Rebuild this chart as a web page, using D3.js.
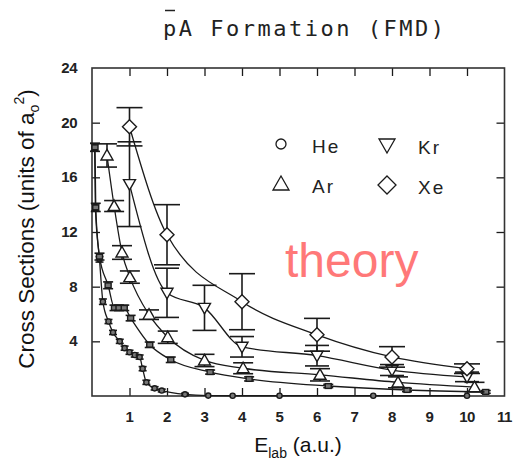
<!DOCTYPE html>
<html><head><meta charset="utf-8">
<script src="https://cdn.jsdelivr.net/npm/d3@7"></script>
<style>body{margin:0;background:#fff}</style>
</head><body><svg id="c" width="517" height="461"></svg>
<script>
// ---- data ----
const xTicks = [1,2,3,4,5,6,7,8,9,10,11];
const yTicks = [4,8,12,16,20,24];
const legendLabels = ["He","Ar","Kr","Xe"];

const heX   = [0.07,0.09,0.2,0.29,0.44,0.56,0.74,0.87,1.0,1.14,1.27,1.35,1.45,1.67,1.86,2.48,3.1,3.75,5.0,7.5,10.0];
const heY   = [18.2,13.8,10.0,6.9,5.45,4.65,4.0,3.5,3.2,3.0,2.85,2.0,1.0,0.56,0.4,0.12,0.03,0.02,0.02,0.02,0.02];
const heErr = [0.25,0.25,0.2,0.2,0.15,0.15,0.15,0.15,0.15,0.15,0.15,0.15,0.15,0.12,0.1,0.08,0,0,0,0,0];

const sqX   = [0.08,0.1,0.2,0.43,0.6,0.72,0.86,1.03,1.54,2.1,3.15,4.19,6.3,8.4,10.5];
const sqY   = [18.2,13.8,10.2,8.1,6.45,6.45,6.45,5.7,3.75,2.65,1.75,1.25,0.73,0.44,0.3];
const sqErr = [0.3,0.3,0.25,0.25,0.2,0.2,0.2,0.2,0.2,0.2,0.15,0.15,0.12,0.12,0.1];

const arX   = [0.4,0.59,0.8,1.01,1.52,2.02,3.0,4.03,6.08,8.16,10.2];
const arY   = [17.6,13.9,10.5,8.7,5.95,4.3,2.6,2.03,1.55,1.0,0.65];
const arErr = [0.85,0.4,0.5,0.45,0.35,0.45,0.45,0.4,0.45,0.4,0.35];

const krX   = [1,2,3,4,6,8,10];
const krY   = [15.5,7.55,6.45,3.6,2.95,1.9,1.4];
const krErr = [3.1,1.8,1.65,0.75,0.75,0.4,0.35];

const xeX   = [1,2,4,6,8,10];
const xeY   = [19.7,11.8,6.9,4.48,2.86,2.0];
const xeErr = [1.4,2.2,2.05,1.2,0.75,0.35];

// ---- layout ----
const svg = d3.select("#c");
const L = 92, R = 504.5, T = 68, B = 396;
const x = d3.scaleLinear().domain([0,11]).range([L,R]);
const y = d3.scaleLinear().domain([0,24]).range([B,T]);
const ink = "#1a1a1a";

// title
svg.append("text").attr("x",163).attr("y",36)
  .attr("font-family","DejaVu Sans Mono").attr("font-size",22)
  .attr("letter-spacing","2.5px").attr("fill","#222").text("pA Formation (FMD)");
svg.append("line").attr("x1",165).attr("x2",175).attr("y1",10.5).attr("y2",10.5)
  .attr("stroke","#222").attr("stroke-width",1.5);

// ticks (inward, mirrored) via d3 axes
const tickOpts = g => g.call(s => s.select(".domain").remove())
  .call(s => s.selectAll("line").attr("stroke",ink).attr("stroke-width",1.3))
  .call(s => s.selectAll("text").remove());
svg.append("g").attr("transform",`translate(0,${B})`)
  .call(d3.axisBottom(x).tickValues(xTicks.slice(0,10)).tickSize(-8)).call(tickOpts);
svg.append("g").attr("transform",`translate(0,${T})`)
  .call(d3.axisTop(x).tickValues(xTicks.slice(0,10)).tickSize(-8)).call(tickOpts);
svg.append("g").attr("transform",`translate(${L},0)`)
  .call(d3.axisLeft(y).tickValues(yTicks.slice(0,5)).tickSize(-8)).call(tickOpts);
svg.append("g").attr("transform",`translate(${R},0)`)
  .call(d3.axisRight(y).tickValues(yTicks.slice(0,5)).tickSize(-8)).call(tickOpts);

// tick labels
svg.append("g").selectAll("text").data(xTicks).join("text")
  .attr("x", d => x(d)).attr("y", 422).attr("text-anchor","middle")
  .attr("font-family","Liberation Sans").attr("font-weight","bold").attr("font-size",15)
  .attr("letter-spacing","-0.5px").attr("fill","#222").text(d => d);
svg.append("g").selectAll("text").data(yTicks).join("text")
  .attr("x", 77).attr("y", d => y(d)+5).attr("text-anchor","end")
  .attr("font-family","Liberation Sans").attr("font-weight","bold").attr("font-size",15)
  .attr("letter-spacing","-0.5px").attr("fill","#222").text(d => d);

// axis titles
const xl = svg.append("text").attr("x",298).attr("y",452).attr("text-anchor","middle")
  .attr("font-family","Liberation Sans").attr("font-size",21).attr("fill","#111");
xl.append("tspan").text("E");
xl.append("tspan").attr("font-size",14).attr("dy",6).text("lab");
xl.append("tspan").attr("dy",-6).text(" (a.u.)");

const yl = svg.append("text").attr("transform","translate(34,229) rotate(-90)")
  .attr("text-anchor","middle").attr("font-family","Liberation Sans")
  .attr("font-size",22.5).attr("fill","#111");
yl.append("tspan").text("Cross Sections (units of a");
yl.append("tspan").attr("font-size",14).attr("dy",5).text("o");
yl.append("tspan").attr("font-size",14).attr("dy",-15).text("2");
yl.append("tspan").attr("dy",10).text(")");

// frame
svg.append("rect").attr("x",L).attr("y",T).attr("width",R-L).attr("height",B-T)
  .attr("fill","none").attr("stroke","#333").attr("stroke-width",1.6);

// series
const series = [
  {X:heX,Y:heY,E:heErr,cap:8,mark:"circle",size:2.6,fill:"#777"},
  {X:sqX,Y:sqY,E:sqErr,cap:10,mark:"square",size:3,fill:"#777"},
  {X:arX,Y:arY,E:arErr,cap:20,mark:"up",size:6,fill:"#fff"},
  {X:krX,Y:krY,E:krErr,cap:24,mark:"down",size:6,fill:"#fff"},
  {X:xeX,Y:xeY,E:xeErr,cap:26,mark:"diamond",size:7,fill:"#fff"}
];
const line = d3.line().x(d=>x(d[0])).y(d=>y(d[1])).curve(d3.curveMonotoneX);

function drawMark(g, mark, cx, cy, s, sw, fill){
  if(mark==="circle") g.append("circle").attr("cx",cx).attr("cy",cy).attr("r",s)
      .attr("fill",fill).attr("stroke",ink).attr("stroke-width",sw);
  else if(mark==="square") g.append("rect").attr("x",cx-s).attr("y",cy-s*0.8).attr("width",2*s).attr("height",1.6*s)
      .attr("fill",fill).attr("stroke",ink).attr("stroke-width",sw);
  else {
    let pts;
    if(mark==="up") pts=[[cx,cy-s],[cx+s,cy+s*0.75],[cx-s,cy+s*0.75]];
    else if(mark==="down") pts=[[cx-s,cy-s*0.75],[cx+s,cy-s*0.75],[cx,cy+s]];
    else pts=[[cx,cy-s],[cx+s,cy],[cx,cy+s],[cx-s,cy]];
    g.append("polygon").attr("points",pts.map(p=>p.join(",")).join(" "))
      .attr("fill",fill).attr("stroke",ink).attr("stroke-width",sw);
  }
}

series.forEach(s => {
  const pts = s.X.map((v,i)=>[v,s.Y[i],s.E[i]]);
  svg.append("path").datum(pts).attr("d",line).attr("fill","none")
    .attr("stroke",ink).attr("stroke-width",1.3);
  const g = svg.append("g");
  pts.forEach(p => {
    if(p[2]>0){
      const cx=x(p[0]), y1=y(p[1]+p[2]), y2=y(p[1]-p[2]);
      g.append("line").attr("x1",cx).attr("x2",cx).attr("y1",y1).attr("y2",y2)
        .attr("stroke",ink).attr("stroke-width",1.6);
      [y1,y2].forEach(yy=>g.append("line").attr("x1",cx-s.cap/2).attr("x2",cx+s.cap/2)
        .attr("y1",yy).attr("y2",yy).attr("stroke",ink).attr("stroke-width",1.6));
    }
    drawMark(g, s.mark, x(p[0]), y(p[1]), s.size, 1.4, s.fill);
  });
});

// legend
const lg = svg.append("g");
const legMarks = ["circle","up","down","diamond"];
const legPos = [[281,144],[281,184],[387,145],[387,185]];
legendLabels.forEach((lab,i)=>{
  const [cx,cy]=legPos[i];
  drawMark(lg, legMarks[i], cx, cy, legMarks[i]==="circle"?5:(legMarks[i]==="diamond"?9:8), 1.3, "#fff");
  lg.append("text").attr("x",cx+31).attr("y",cy+9).attr("font-family","Liberation Sans")
    .attr("font-size",19).attr("letter-spacing","2px").attr("fill","#222").text(lab);
});

// annotation
svg.append("text").attr("x",285).attr("y",277).attr("font-family","Liberation Sans")
  .attr("font-size",48).attr("fill","#ff7878").text("theory");
</script></body></html>
